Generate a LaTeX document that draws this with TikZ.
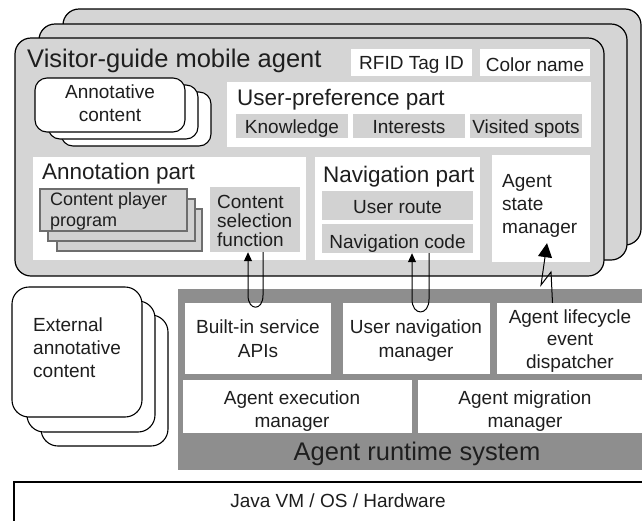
\documentclass[tikz,border=0pt]{standalone}
\usepackage{fontspec}
\setmainfont{Liberation Sans}
\usetikzlibrary{fit,arrows.meta}
\definecolor{agentgray}{HTML}{D5D5D5}
\definecolor{subgray}{HTML}{D2D2D2}
\definecolor{rtgray}{HTML}{8E8E8E}
\definecolor{ink}{HTML}{1E1E1E}
\definecolor{playerline}{HTML}{6E6E6E}
\begin{document}
\begin{tikzpicture}[x=1pt,y=-1pt,
  agentbox/.style={draw=black, line width=1.2pt, fill=agentgray, rounded corners=16pt, inner sep=0pt},
  wbox/.style={fill=white, inner sep=0pt},
  gbox/.style={fill=subgray, inner sep=0pt},
  stackbox/.style={draw=black, line width=1.1pt, fill=white, rounded corners=12pt, inner sep=0pt},
  extbox/.style={draw=black, line width=1.1pt, fill=white, rounded corners=17pt, inner sep=0pt},
  playerbox/.style={draw=playerline, line width=1.1pt, fill=subgray, inner sep=0pt},
  rtbox/.style={fill=rtgray, inner sep=0pt},
  javabox/.style={draw=black, line width=1.2pt, fill=white, inner sep=0pt},
  body/.style={font=\fontsize{19}{23}\selectfont, text=ink, inner sep=0pt},
  head/.style={font=\fontsize{22.5}{26}\selectfont, text=ink, inner sep=0pt},
  big/.style={font=\fontsize{25.5}{30}\selectfont, text=ink, inner sep=0pt},
  link/.style={line width=1pt, draw=black},
]
\useasboundingbox (0,0) rectangle (642,520);

% ---- mobile agent stack ----
\node[agentbox, fit={(63,9) (641,245)}] (agent3) {};
\node[agentbox, fit={(39,24) (627,260)}] (agent2) {};
\node[agentbox, fit={(15,38) (604,276)}] (agent1) {};
\node[big, anchor=base west] (title) at (27,67) {Visitor-guide mobile agent};

\node[wbox, fit={(351,49) (472,76)}] (rfid) {};
\node[body, anchor=base] (rfidt) at (411.5,69) {RFID Tag ID};
\node[wbox, fit={(480,49) (590,76)}] (color) {};
\node[body, anchor=base] (colort) at (535,71) {Color name};

% annotative content stack
\node[stackbox, fit={(61,92) (211,146)}] (ann3) {};
\node[stackbox, fit={(48,85) (198,139)}] (ann2) {};
\node[stackbox, fit={(35,78) (185,132)}] (ann1) {};
\node[body, anchor=base] (ann1a) at (110,98) {Annotative};
\node[body, anchor=base] (ann1b) at (110,121) {content};

% user preference
\node[wbox, fit={(227,82) (591,147)}] (upref) {};
\node[head, anchor=base west] (upreft) at (237,105) {User-preference part};
\node[gbox, fit={(236,114) (348,138)}] (know) {};
\node[body, anchor=base] (knowt) at (292,133) {Knowledge};
\node[gbox, fit={(353,114) (465,138)}] (inter) {};
\node[body, anchor=base] (intert) at (409,133) {Interests};
\node[gbox, fit={(470,114) (582,138)}] (visit) {};
\node[body, anchor=base] (visitt) at (526,133) {Visited spots};

% annotation part
\node[wbox, fit={(33,157) (306,260)}] (annp) {};
\node[head, anchor=base west] (annpt) at (42,179) {Annotation part};
\node[playerbox, fit={(57,209) (202,251)}] (cpp3) {};
\node[playerbox, fit={(48,199) (195,241)}] (cpp2) {};
\node[playerbox, fit={(40,189) (187,231)}] (cpp1) {};
\node[body, font=\fontsize{18}{20.3}\selectfont, align=left, anchor=base west] (cppt) at (50,226) {Content player\\program};
\node[gbox, fit={(210,187) (300,252)}] (csf) {};
\node[body, anchor=base west] (csfa) at (217,208) {Content};
\node[body, anchor=base west] (csfb) at (217,227) {selection};
\node[body, anchor=base west] (csfc) at (217,246) {function};

% navigation part
\node[wbox, fit={(315,157) (480,260)}] (navp) {};
\node[head, anchor=base west] (navpt) at (323,182) {Navigation part};
\node[gbox, fit={(322,191) (473,220)}] (uroute) {};
\node[body, anchor=base] (uroutet) at (397.5,213) {User route};
\node[gbox, fit={(322,224) (473,253)}] (ncode) {};
\node[body, anchor=base] (ncodet) at (397.5,248) {Navigation code};

% agent state manager
\node[wbox, fit={(492,155) (590,262)}] (asm) {};
\node[body, anchor=base west] (asma) at (502,187) {Agent};
\node[body, anchor=base west] (asmb) at (502,210) {state};
\node[body, anchor=base west] (asmc) at (502,233) {manager};

% ---- external annotative content ----
\node[extbox, fit={(41,315) (168,446)}] (ext3) {};
\node[extbox, fit={(27,301) (155,432)}] (ext2) {};
\node[extbox, fit={(12,287) (142,417)}] (ext1) {};
\node[body, anchor=base west] (exta) at (33,331) {External};
\node[body, anchor=base west] (extb) at (33,354) {annotative};
\node[body, anchor=base west] (extc) at (33,377) {content};

% ---- agent runtime system ----
\node[rtbox, fit={(178,289) (660,470)}] (rts) {};
\node[wbox, fit={(185,303) (331,374)}] (bapi) {};
\node[body, anchor=base] (bapia) at (258,333) {Built-in service};
\node[body, anchor=base] (bapib) at (258,357) {APIs};
\node[wbox, fit={(343,303) (490,374)}] (unm) {};
\node[body, anchor=base] (unma) at (416,333) {User navigation};
\node[body, anchor=base] (unmb) at (416,357) {manager};
\node[wbox, fit={(497,303) (660,374)}] (life) {};
\node[body, anchor=base] (lifea) at (570,323) {Agent lifecycle};
\node[body, anchor=base] (lifeb) at (570,345.5) {event};
\node[body, anchor=base] (lifec) at (570,368) {dispatcher};
\node[wbox, fit={(183,380) (412,433)}] (aem) {};
\node[body, anchor=base] (aema) at (292,404) {Agent execution};
\node[body, anchor=base] (aemb) at (292,427) {manager};
\node[wbox, fit={(418,380) (660,433)}] (amm) {};
\node[body, anchor=base] (amma) at (525,404) {Agent migration};
\node[body, anchor=base] (ammb) at (525,427) {manager};
\node[big, anchor=base] (rtst) at (417,460) {Agent runtime system};

% ---- Java VM ----
\node[javabox, fit={(14,482) (670,545)}] (java) {};
\node[body, anchor=base] (javat) at (338,507) {Java VM / OS / Hardware};

% ---- connectors ----
\draw[link, -{Triangle[length=9pt,width=8pt]}]
  ([xshift=8pt]csf.south) -- ++(0,43) .. controls ++(0,16) and ++(0,16) .. ++(-15,0) -- ([xshift=-7pt]csf.south);
\draw[link, -{Triangle[length=9pt,width=8pt]}]
  ([xshift=31.5pt]ncode.south) -- ++(0,46) .. controls ++(0,17) and ++(0,17) .. ++(-17,0) -- ([xshift=14.5pt]ncode.south);
\coordinate (asmtip) at ([xshift=6pt,yshift=19pt]asm.south);
\draw[link, -{Triangle[length=14pt,width=14pt]}]
  ([xshift=-26pt]life.north) -- (551,272) -- (541,285) -- (asmtip);
\end{tikzpicture}
\end{document}
